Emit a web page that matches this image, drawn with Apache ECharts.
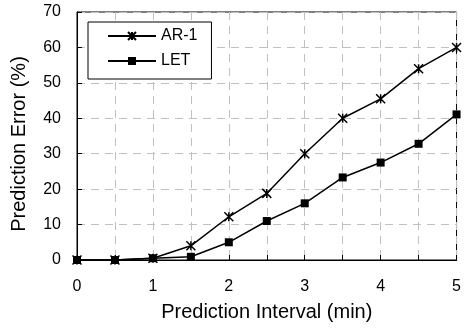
<!DOCTYPE html>
<html><head><meta charset="utf-8">
<script src="https://cdn.jsdelivr.net/npm/echarts@6/dist/echarts.min.js"></script>
<style>html,body{margin:0;padding:0;background:#fff}#c{width:464px;height:328px}</style>
</head><body><div id="c"></div>
<script>
const intervals = [0, 0.5, 1, 1.5, 2, 2.5, 3, 3.5, 4, 4.5, 5];
const ar1 = [0, 0, 0.5, 4, 12.2, 18.8, 30, 40, 45.5, 54, 60];
const let_ = [0, 0, 0.5, 0.9, 5, 11, 16, 23.3, 27.5, 32.8, 41.1];
const seriesNames = ['AR-1', 'LET'];
const starPath = 'path://M0,0L10,10M10,0L0,10M5,0L5,10';
const font = 'Liberation Sans, Arial, sans-serif';
const chart = echarts.init(document.getElementById('c'));
chart.setOption({
  animation: false,
  backgroundColor: '#fff',
  grid: { left: 77, right: 5, top: 12, bottom: 68, show: true, borderColor: '#000', borderWidth: 1 },
  legend: {
    left: 88, top: 22, orient: 'vertical', itemGap: 9,
    backgroundColor: '#fff',
    borderColor: '#000', borderWidth: 1, padding: [6, 14, 10, 19],
    itemWidth: 48, itemHeight: 10,
    textStyle: { fontFamily: font, fontSize: 16, color: '#000' },
    data: seriesNames
  },
  xAxis: {
    type: 'value', min: 0, max: 5, interval: 0.5,
    name: 'Prediction Interval (min)', nameLocation: 'middle', nameGap: 42,
    nameTextStyle: { fontFamily: font, fontSize: 20, color: '#000' },
    axisLine: { lineStyle: { color: '#000' } },
    axisTick: { inside: true, length: 5, lineStyle: { color: '#000' } },
    axisLabel: { fontFamily: font, fontSize: 16, color: '#000', margin: 19,
      formatter: v => (Number.isInteger(v) ? String(v) : '') },
    splitLine: { show: true, lineStyle: { color: '#c0c0c0', type: [8, 6] } }
  },
  yAxis: {
    type: 'value', min: 0, max: 70, interval: 10,
    name: 'Prediction Error (%)', nameLocation: 'middle', nameGap: 48,
    nameTextStyle: { fontFamily: font, fontSize: 20, color: '#000', padding: [0, 16, 0, 0] },
    axisLine: { show: true, lineStyle: { color: '#000' } },
    axisTick: { show: true, inside: true, length: 5, lineStyle: { color: '#000' } },
    axisLabel: { fontFamily: font, fontSize: 16, color: '#000', margin: 16 },
    splitLine: { show: true, lineStyle: { color: '#c0c0c0', type: [8, 6] } }
  },
  series: [
    { name: seriesNames[0], type: 'line', data: intervals.map((x, i) => [x, ar1[i]]),
      symbol: starPath, symbolSize: 9,
      lineStyle: { color: '#000', width: 1.5 },
      itemStyle: { color: '#000', borderColor: '#000', borderWidth: 1.5 } },
    { name: seriesNames[1], type: 'line', data: intervals.map((x, i) => [x, let_[i]]),
      symbol: 'rect', symbolSize: 8,
      lineStyle: { color: '#000', width: 1.5 },
      itemStyle: { color: '#000' } }
  ]
});
</script></body></html>
